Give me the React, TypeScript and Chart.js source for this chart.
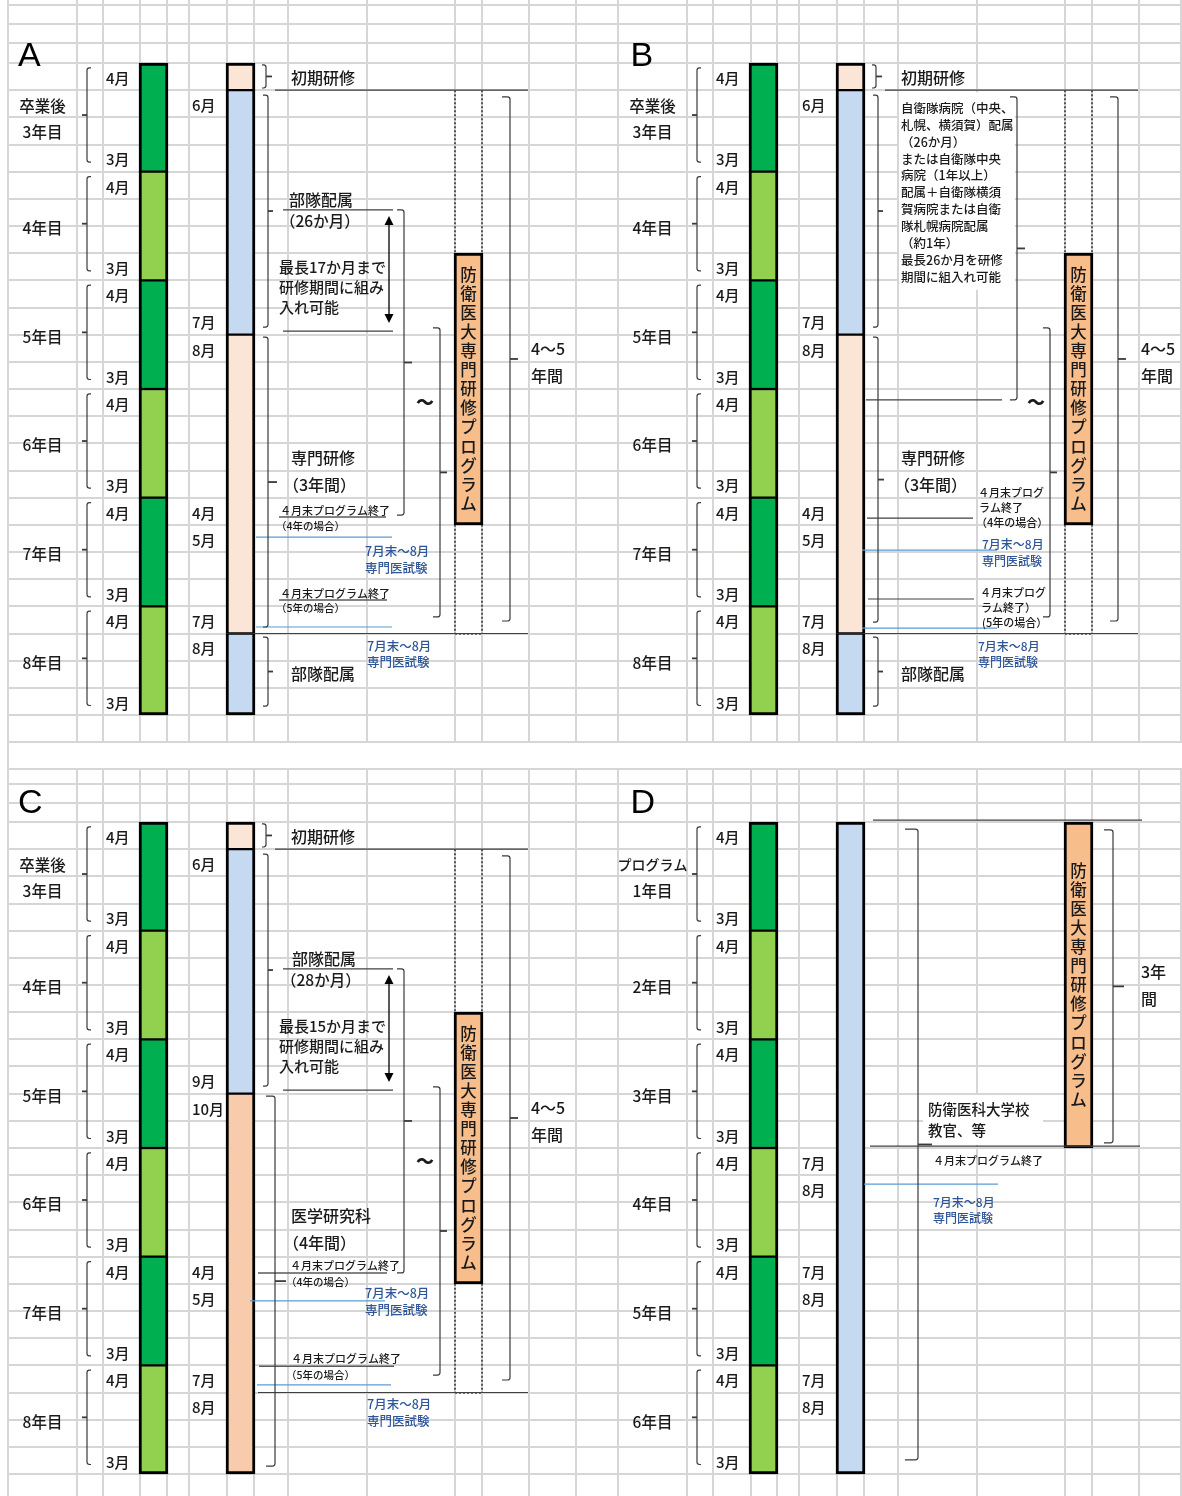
import React, { useEffect, useRef } from 'react';
import { Chart, registerables } from 'chart.js';

Chart.register(...registerables);

/* ================= data ================= */
// one spreadsheet row = 3 months, one year = 4 rows (April .. March)
const YEAR_LABELS_ABC = ['卒業後\n3年目', '4年目', '5年目', '6年目', '7年目', '8年目'];
const YEAR_LABELS_D = ['プログラム\n1年目', '2年目', '3年目', '4年目', '5年目', '6年目'];
const YEAR_MONTH_LABELS = ['4月', '3月'];
const ROWS_PER_YEAR = 4;

const STAGE_ROWS_AB = [0, 1, 10, 21, 24];
const STAGE_NAMES_AB = ['初期研修', '部隊配属', '専門研修', '部隊配属'];
const STAGE_ROWS_C = [0, 1, 10, 24];
const STAGE_NAMES_C = ['初期研修', '部隊配属', '医学研究科'];
const STAGE_ROWS_D = [0, 24];
const STAGE_NAMES_D = ['防衛医科大学校教官等'];

const STAGE_MONTH_ROWS_AB = [1, 9, 10, 16, 17, 20, 21];
const STAGE_MONTH_LABELS_AB = ['6月', '7月', '8月', '4月', '5月', '7月', '8月'];
const STAGE_MONTH_ROWS_C = [1, 9, 10, 16, 17, 20, 21];
const STAGE_MONTH_LABELS_C = ['6月', '9月', '10月', '4月', '5月', '7月', '8月'];
const STAGE_MONTH_ROWS_D = [12, 13, 16, 17, 20, 21];
const STAGE_MONTH_LABELS_D = ['7月', '8月', '7月', '8月', '7月', '8月'];

const PROGRAM_ROWS_ABC = [7, 17];
const PROGRAM_WINDOW_ABC = [1, 21];
const PROGRAM_ROWS_D = [0, 12];
const PROGRAM_TITLE = '防衛医大専門研修プログラム';

const B_NOTE_LINES = [
  '自衛隊病院（中央、',
  '札幌、横須賀）配属',
  '（26か月）',
  'または自衛隊中央',
  '病院（1年以上）',
  '配属＋自衛隊横須',
  '賀病院または自衛',
  '隊札幌病院配属',
  '（約1年）',
  '最長26か月を研修',
  '期間に組入れ可能',
];

/* ================= styles / layout ================= */
const FONT = '"Noto Sans CJK JP", "Noto Sans", sans-serif';
const WEIGHT = '500';
const INK = '#1a1a1a';
const BLUE_TEXT = '#2E5597';
const BLUE_LINE = '#5B9BD5';
const DARK_LINE = '#404040';
const UNDER_LINE = '#5a5a5a';
const GRID = '#d6d6d6';
const DARK_GREEN = '#00B050';
const LIGHT_GREEN = '#92D050';
const PROGRAM_COLOR = '#F7BE8C';
const STAGE_COLORS: Record<string, string> = {
  '初期研修': '#FBE5D6',
  '部隊配属': '#C5D9F1',
  '専門研修': '#FBE5D6',
  '医学研究科': '#F8CBAD',
  '防衛医科大学校教官等': '#C5D9F1',
};

const ROW_PX = 652 / 24;
const COLS_L = [0, 69, 95, 132, 159, 181, 219, 246, 280, 359, 447, 474, 521, 568];
const COLS_R = [0, 69, 95, 133, 159, 181, 219, 246, 280, 359, 447, 474, 521, 563];
const YEAR_BAR_X = 145.5;
const STAGE_BAR_X = 232.5;
const PROGRAM_X = 460.5;
const WINDOW_X = [447, 474];
const BAR_W = 29;

const range = (a: number, b: number) => Array.from({ length: b - a + 1 }, (_, i) => a + i);
const TOP_GRID_ROWS = [-2.135, -1.436, -0.736, ...range(0, 25)];
const BOTTOM_GRID_ROWS = [-1.951, -1.399, -0.699, ...range(0, 24)];

/* ---- annotations: [x, row, text, size, color?, align?, bold?] ---- */
const A_TEXTS: any[] = [
  [283, 0.55, '初期研修', 16],
  [281, 5.04, '部隊配属', 16],
  [272, 5.82, '（26か月）', 15.5],
  [271, 7.51, '最長17か月まで', 15],
  [271, 8.25, '研修期間に組み', 15],
  [271, 8.98, '入れ可能', 15],
  [417, 12.48, '～', 18, INK, 'center', true],
  [283, 14.54, '専門研修', 16],
  [275, 15.53, '（3年間）', 16],
  [272, 16.49, '４月末プログラム終了', 11],
  [268, 17.04, '（4年の場合）', 10.5],
  [357, 17.96, '7月末～8月', 12.5, BLUE_TEXT],
  [357, 18.59, '専門医試験', 12.5, BLUE_TEXT],
  [272, 19.55, '４月末プログラム終了', 11],
  [268, 20.06, '（5年の場合）', 10.5],
  [523, 10.53, '4～5', 16],
  [523, 11.52, '年間', 16],
  [283, 22.49, '部隊配属', 16],
  [359, 21.46, '7月末～8月', 12.5, BLUE_TEXT],
  [359, 22.05, '専門医試験', 12.5, BLUE_TEXT],
];
const B_TEXTS: any[] = [
  [283, 0.55, '初期研修', 16],
  ...B_NOTE_LINES.map((t, i) => [283, 1.66 + 0.622 * i, t, 12.5]),
  [418, 12.5, '～', 18, INK, 'center', true],
  [283, 14.54, '専門研修', 16],
  [276, 15.53, '（3年間）', 16],
  [360, 15.83, '４月末プログ', 11],
  [361, 16.38, 'ラム終了', 11],
  [358, 16.93, '（4年の場合）', 11],
  [364, 17.74, '7月末～8月', 12, BLUE_TEXT],
  [364, 18.33, '専門医試験', 12, BLUE_TEXT],
  [362, 19.51, '４月末プログ', 11],
  [363, 20.06, 'ラム終了）', 11],
  [364, 20.61, '(5年の場合）', 11],
  [523, 10.53, '4～5', 16],
  [523, 11.52, '年間', 16],
  [283, 22.49, '部隊配属', 16],
  [360, 21.46, '7月末～8月', 12, BLUE_TEXT],
  [360, 22.05, '専門医試験', 12, BLUE_TEXT],
];
const C_TEXTS: any[] = [
  [283, 0.55, '初期研修', 16],
  [284, 5.04, '部隊配属', 16],
  [273, 5.82, '（28か月）', 15.5],
  [271, 7.51, '最長15か月まで', 15],
  [271, 8.25, '研修期間に組み', 15],
  [271, 8.98, '入れ可能', 15],
  [417, 12.48, '～', 18, INK, 'center', true],
  [283, 14.51, '医学研究科', 16],
  [275, 15.5, '（4年間）', 16],
  [282, 16.34, '４月末プログラム終了', 11],
  [278, 16.93, '（4年の場合）', 10.5],
  [357, 17.34, '7月末～8月', 12.5, BLUE_TEXT],
  [357, 17.96, '専門医試験', 12.5, BLUE_TEXT],
  [283, 19.77, '４月末プログラム終了', 11],
  [278, 20.36, '（5年の場合）', 10.5],
  [359, 21.43, '7月末～8月', 12.5, BLUE_TEXT],
  [359, 22.05, '専門医試験', 12.5, BLUE_TEXT],
  [523, 10.53, '4～5', 16],
  [523, 11.52, '年間', 16],
];
const D_TEXTS: any[] = [
  [310, 10.6, '防衛医科大学校', 14.5],
  [310, 11.34, '教官、等', 14.5],
  [523, 5.52, '3年', 16],
  [523, 6.52, '間', 16],
  [315, 12.48, '４月末プログラム終了', 11],
  [315, 13.99, '7月末～8月', 12, BLUE_TEXT],
  [315, 14.58, '専門医試験', 12, BLUE_TEXT],
];

/* ---- lines: [x1, x2, row, kind] ---- */
const A_LINES: any[] = [
  [267, 520, 1, 'd'], [275, 385, 5.41, 'd'], [275, 385, 9.87, 'd'],
  [271, 378, 16.71, 'u'], [271, 379, 19.77, 'u'], [246, 520, 21, 'd'],
  [248, 384, 17.45, 'b'], [248, 384, 20.76, 'b'],
];
const B_LINES: any[] = [
  [267, 520, 1, 'd'], [248, 384, 12.4, 'd'], [249, 355, 16.75, 'd'], [250, 356, 19.73, 'd'],
  [246, 520, 21, 'd'], [244, 379, 17.93, 'b'], [244, 379, 20.8, 'b'],
];
const C_LINES: any[] = [
  [267, 520, 1, 'd'], [275, 385, 5.41, 'd'], [275, 385, 9.87, 'd'],
  [250, 379, 16.6, 'u'], [251, 386, 20.03, 'u'], [250, 520, 21, 'd'],
  [242, 377, 17.63, 'b'], [249, 383, 20.72, 'b'],
];
const D_LINES: any[] = [
  [255, 524, -0.07, 'd'], [252, 522, 11.93, 'd'], [246, 380, 13.33, 'b'],
];

/* ---- brackets: [x, row1, row2, dir, hook, tick] ---- */
const A_BRACKETS: any[] = [
  [258, 0.07, 0.92, 'R', 4, 6], [260, 1.18, 9.72, 'R', 5, 5], [396, 5.41, 16.64, 'R', 7, 8],
  [432, 9.75, 20.39, 'R', 7, 7], [260, 10.09, 20.76, 'R', 5, 9], [502, 1.25, 20.54, 'R', 8, 8],
  [260, 21.13, 23.67, 'R', 5, 5],
];
const B_BRACKETS: any[] = [
  [258, 0.07, 0.92, 'R', 4, 6], [260, 1.18, 9.72, 'R', 5, 5], [399, 1.25, 12.4, 'R', 7, 8],
  [432, 9.75, 20.39, 'R', 7, 7], [260, 10.09, 20.58, 'R', 5, 6], [500, 1.25, 20.54, 'R', 8, 8],
  [260, 21.13, 23.67, 'R', 5, 5],
];
const C_BRACKETS: any[] = [
  [258, 0.07, 0.92, 'R', 4, 6], [260, 1.18, 9.72, 'R', 5, 5], [396, 5.41, 16.6, 'R', 7, 8],
  [432, 9.75, 20.36, 'R', 7, 7], [267, 10.09, 23.71, 'R', 9, 11], [502, 1.25, 20.54, 'R', 8, 8],
];
const D_BRACKETS: any[] = [
  [300, 0.26, 23.48, 'R', 13, 14], [495, 0.29, 11.81, 'R', 9, 11],
];
const ARROWS_AC: any[] = [[381, 5.63, 9.57]];

const PANELS: any[] = [
  {
    key: 'A', left: 0, top: 0, width: 618, height: 770, xMin: -8, row0: 63, cols: COLS_L, leftEdge: true,
    gridRows: TOP_GRID_ROWS, gridFrom: null, gridTo: 25, years: YEAR_LABELS_ABC,
    stageRows: STAGE_ROWS_AB, stageNames: STAGE_NAMES_AB, monthRows: STAGE_MONTH_ROWS_AB, monthLabels: STAGE_MONTH_LABELS_AB,
    program: PROGRAM_ROWS_ABC, window: PROGRAM_WINDOW_ABC, texts: A_TEXTS, lines: A_LINES, brackets: A_BRACKETS,
    arrows: ARROWS_AC, boxes: [], letter: [10, 0.11, 'A'],
  },
  {
    key: 'B', left: 617, top: 0, width: 565, height: 770, xMin: -1, row0: 63, cols: COLS_R, leftEdge: false,
    gridRows: TOP_GRID_ROWS, gridFrom: null, gridTo: 25, years: YEAR_LABELS_ABC,
    stageRows: STAGE_ROWS_AB, stageNames: STAGE_NAMES_AB, monthRows: STAGE_MONTH_ROWS_AB, monthLabels: STAGE_MONTH_LABELS_AB,
    program: PROGRAM_ROWS_ABC, window: PROGRAM_WINDOW_ABC, texts: B_TEXTS, lines: B_LINES, brackets: B_BRACKETS,
    arrows: [], boxes: [[281, 397, 1.08, 8.35]], letter: [12.5, 0.11, 'B'],
  },
  {
    key: 'C', left: 0, top: 768, width: 618, height: 728, xMin: -8, row0: 54, cols: COLS_L, leftEdge: true,
    gridRows: BOTTOM_GRID_ROWS, gridFrom: -1.951, gridTo: null, years: YEAR_LABELS_ABC,
    stageRows: STAGE_ROWS_C, stageNames: STAGE_NAMES_C, monthRows: STAGE_MONTH_ROWS_C, monthLabels: STAGE_MONTH_LABELS_C,
    program: PROGRAM_ROWS_ABC, window: PROGRAM_WINDOW_ABC, texts: C_TEXTS, lines: C_LINES, brackets: C_BRACKETS,
    arrows: ARROWS_AC, boxes: [], letter: [10, -0.33, 'C'],
  },
  {
    key: 'D', left: 617, top: 768, width: 565, height: 728, xMin: -1, row0: 54, cols: COLS_R, leftEdge: false,
    gridRows: BOTTOM_GRID_ROWS, gridFrom: -1.951, gridTo: null, years: YEAR_LABELS_D,
    stageRows: STAGE_ROWS_D, stageNames: STAGE_NAMES_D, monthRows: STAGE_MONTH_ROWS_D, monthLabels: STAGE_MONTH_LABELS_D,
    program: PROGRAM_ROWS_D, window: null, texts: D_TEXTS, lines: D_LINES, brackets: D_BRACKETS,
    arrows: [], boxes: [[305, 425, 10.05, 11.88]], letter: [12.5, -0.33, 'D'],
  },
];

/* ================= drawing helpers ================= */
function text(ctx: any, s: string, x: number, y: number, size: number, color = INK, align = 'left', bold = false) {
  ctx.font = `${bold ? '900' : WEIGHT} ${size}px ${FONT}`;
  ctx.fillStyle = color;
  ctx.textAlign = align;
  ctx.textBaseline = 'middle';
  ctx.fillText(s, x, y);
}

function bracket(ctx: any, x: number, y1: number, y2: number, dir: string, hook: number, tick: number) {
  const s = dir === 'R' ? -1 : 1;
  const r = Math.min(2.5, hook * 0.6);
  ctx.strokeStyle = '#3a3a3a';
  ctx.lineWidth = 1.2;
  ctx.beginPath();
  ctx.moveTo(x + s * hook, y1);
  ctx.lineTo(x + s * r, y1);
  ctx.quadraticCurveTo(x, y1, x, y1 + r);
  ctx.lineTo(x, y2 - r);
  ctx.quadraticCurveTo(x, y2, x + s * r, y2);
  ctx.lineTo(x + s * hook, y2);
  ctx.stroke();
  const ym = (y1 + y2) / 2;
  ctx.lineWidth = 1.8;
  ctx.beginPath();
  ctx.moveTo(x, ym);
  ctx.lineTo(x - s * tick, ym);
  ctx.stroke();
}

function arrow(ctx: any, x: number, y1: number, y2: number) {
  ctx.strokeStyle = '#000';
  ctx.fillStyle = '#000';
  ctx.lineWidth = 1.3;
  ctx.beginPath();
  ctx.moveTo(x, y1 + 6);
  ctx.lineTo(x, y2 - 6);
  ctx.stroke();
  ctx.beginPath();
  ctx.moveTo(x, y1); ctx.lineTo(x - 4.5, y1 + 9); ctx.lineTo(x + 4.5, y1 + 9); ctx.closePath();
  ctx.moveTo(x, y2); ctx.lineTo(x - 4.5, y2 - 9); ctx.lineTo(x + 4.5, y2 - 9); ctx.closePath();
  ctx.fill();
}

function panelPlugin(p: any) {
  return {
    id: 'panel' + p.key,
    beforeDatasetsDraw(chart: any) {
      const { ctx, chartArea } = chart;
      const X = (v: number) => chart.scales.x.getPixelForValue(v);
      const Y = (v: number) => chart.scales.y.getPixelForValue(v);
      ctx.save();
      // spreadsheet grid
      ctx.strokeStyle = GRID;
      ctx.lineWidth = 2;
      const vTop = p.gridFrom == null ? chartArea.top : Math.round(Y(p.gridFrom));
      const vBot = p.gridTo == null ? chartArea.bottom : Math.round(Y(p.gridTo));
      ctx.beginPath();
      p.cols.forEach((c: number, i: number) => {
        const x = Math.round(X(c));
        const full = i === 0 && p.leftEdge;
        ctx.moveTo(x, full ? chartArea.top : vTop);
        ctx.lineTo(x, full ? chartArea.bottom : vBot);
      });
      const hx0 = Math.round(X(p.cols[0])) - 1;
      p.gridRows.forEach((r: number) => {
        const y = Math.round(Y(r));
        ctx.moveTo(hx0, y);
        ctx.lineTo(chartArea.right, y);
      });
      ctx.stroke();
      // opaque text boxes
      ctx.fillStyle = '#ffffff';
      p.boxes.forEach((b: number[]) => {
        const x1 = X(b[0]), x2 = X(b[1]), y1 = Y(b[2]), y2 = Y(b[3]);
        ctx.fillRect(x1, y1, x2 - x1, y2 - y1);
      });
      ctx.restore();
    },
    afterDatasetsDraw(chart: any) {
      const { ctx } = chart;
      const X = (v: number) => chart.scales.x.getPixelForValue(v);
      const Y = (v: number) => chart.scales.y.getPixelForValue(v);
      ctx.save();

      // panel letter
      ctx.font = `34px "Liberation Sans", Arial, sans-serif`;
      ctx.fillStyle = '#000';
      ctx.textAlign = 'left';
      ctx.textBaseline = 'alphabetic';
      ctx.fillText(p.letter[2], X(p.letter[0]), Y(p.letter[1]));

      // year labels, month ticks, year brackets
      p.years.forEach((label: string, k: number) => {
        const base = k * ROWS_PER_YEAR;
        const parts = label.split('\n');
        if (parts.length === 2) {
          text(ctx, parts[0], X(34.5), Y(base + 1.58), parts[0].length > 3 ? 14 : 15.5, INK, 'center');
          text(ctx, parts[1], X(34.5), Y(base + 2.56), 15.5, INK, 'center');
        } else {
          text(ctx, parts[0], X(34.5), Y(base + 2.08), 15.5, INK, 'center');
        }
        text(ctx, YEAR_MONTH_LABELS[0], X(98), Y(base + 0.56), 15);
        text(ctx, YEAR_MONTH_LABELS[1], X(98), Y(base + ROWS_PER_YEAR - 0.44), 15);
        bracket(ctx, X(79), Y(base + 0.18), Y(base + 3.65), 'L', 4, 5);
      });

      // stage month ticks
      p.monthRows.forEach((r: number, i: number) => {
        text(ctx, p.monthLabels[i], X(184), Y(r + 0.56), 15);
      });

      // dotted program window
      if (p.window) {
        ctx.strokeStyle = '#000';
        ctx.lineWidth = 1.2;
        ctx.setLineDash([2, 2]);
        ctx.beginPath();
        WINDOW_X.forEach((wx) => {
          ctx.moveTo(X(wx), Y(p.window[0]));
          ctx.lineTo(X(wx), Y(p.program[0]));
          ctx.moveTo(X(wx), Y(p.program[1]));
          ctx.lineTo(X(wx), Y(p.window[1]));
        });
        ctx.moveTo(X(WINDOW_X[0]), Y(p.window[1]) + 0.5);
        ctx.lineTo(X(WINDOW_X[1]), Y(p.window[1]) + 0.5);
        ctx.stroke();
        ctx.setLineDash([]);
      }

      // lines
      p.lines.forEach((l: any[]) => {
        ctx.strokeStyle = l[3] === 'b' ? BLUE_LINE : l[3] === 'u' ? UNDER_LINE : DARK_LINE;
        ctx.lineWidth = l[3] === 'u' ? 1.5 : 1.2;
        ctx.beginPath();
        ctx.moveTo(X(l[0]), Y(l[2]));
        ctx.lineTo(X(l[1]), Y(l[2]));
        ctx.stroke();
      });

      // brackets
      p.brackets.forEach((b: any[]) => bracket(ctx, X(b[0]), Y(b[1]), Y(b[2]), b[3], b[4], b[5]));

      // arrows
      p.arrows.forEach((a: number[]) => arrow(ctx, X(a[0]), Y(a[1]), Y(a[2])));

      // texts
      p.texts.forEach((t: any[]) => text(ctx, t[2], X(t[0]), Y(t[1]), t[3], t[4] || INK, t[5] || 'left', !!t[6]));

      // vertical program title
      const chars = Array.from(PROGRAM_TITLE);
      const yc = (Y(p.program[0]) + Y(p.program[1])) / 2;
      chars.forEach((ch, i) => {
        text(ctx, ch, X(PROGRAM_X), yc + (i - (chars.length - 1) / 2) * 19.1, 16.5, INK, 'center');
      });

      ctx.restore();
    },
  };
}

function segBorder(ctx: any) {
  const n = ctx.dataset.data.length;
  const i = ctx.dataIndex;
  return { left: 3, right: 3, top: i === 0 ? 3 : 1.5, bottom: i === n - 1 ? 3 : 1.5 };
}

function buildDatasets(p: any) {
  const common = { grouped: false, barThickness: BAR_W, borderColor: '#000', borderSkipped: false, borderRadius: 0 };
  return [
    {
      ...common,
      label: '年次',
      data: p.years.map((_: string, k: number) => ({ x: YEAR_BAR_X, y: [k * ROWS_PER_YEAR, (k + 1) * ROWS_PER_YEAR] })),
      backgroundColor: p.years.map((_: string, k: number) => (k % 2 === 0 ? DARK_GREEN : LIGHT_GREEN)),
      borderWidth: segBorder,
    },
    {
      ...common,
      label: '研修段階',
      data: p.stageNames.map((_: string, i: number) => ({ x: STAGE_BAR_X, y: [p.stageRows[i], p.stageRows[i + 1]] })),
      backgroundColor: p.stageNames.map((n: string) => STAGE_COLORS[n]),
      borderWidth: segBorder,
    },
    {
      ...common,
      label: PROGRAM_TITLE,
      data: [{ x: PROGRAM_X, y: [p.program[0], p.program[1]] }],
      backgroundColor: PROGRAM_COLOR,
      borderWidth: 3,
    },
  ];
}

function Panel({ p }: { p: any }) {
  const ref = useRef<HTMLCanvasElement>(null);
  useEffect(() => {
    const canvas = ref.current;
    if (!canvas) return;
    const yMin = -p.row0 / ROW_PX;
    const yMax = (p.height - p.row0) / ROW_PX;
    const chart = new Chart(canvas, {
      type: 'bar',
      data: { datasets: buildDatasets(p) as any },
      options: {
        animation: false,
        responsive: false,
        maintainAspectRatio: false,
        events: [],
        layout: { padding: 0 },
        plugins: { legend: { display: false }, tooltip: { enabled: false } },
        scales: {
          x: { type: 'linear', display: false, min: p.xMin, max: p.xMin + p.width, offset: false },
          y: { type: 'linear', display: false, reverse: true, min: yMin, max: yMax, offset: false, beginAtZero: false },
        },
      } as any,
      plugins: [panelPlugin(p)],
    });
    return () => chart.destroy();
  }, [p]);
  return (
    <canvas
      ref={ref}
      width={p.width}
      height={p.height}
      style={{ position: 'absolute', left: p.left, top: p.top, width: p.width, height: p.height }}
    />
  );
}

export default function App() {
  return (
    <div style={{ position: 'absolute', left: 0, top: 0, width: 1182, height: 1496, background: '#fff', overflow: 'hidden' }}>
      {PANELS.map((p) => (
        <Panel key={p.key} p={p} />
      ))}
    </div>
  );
}
